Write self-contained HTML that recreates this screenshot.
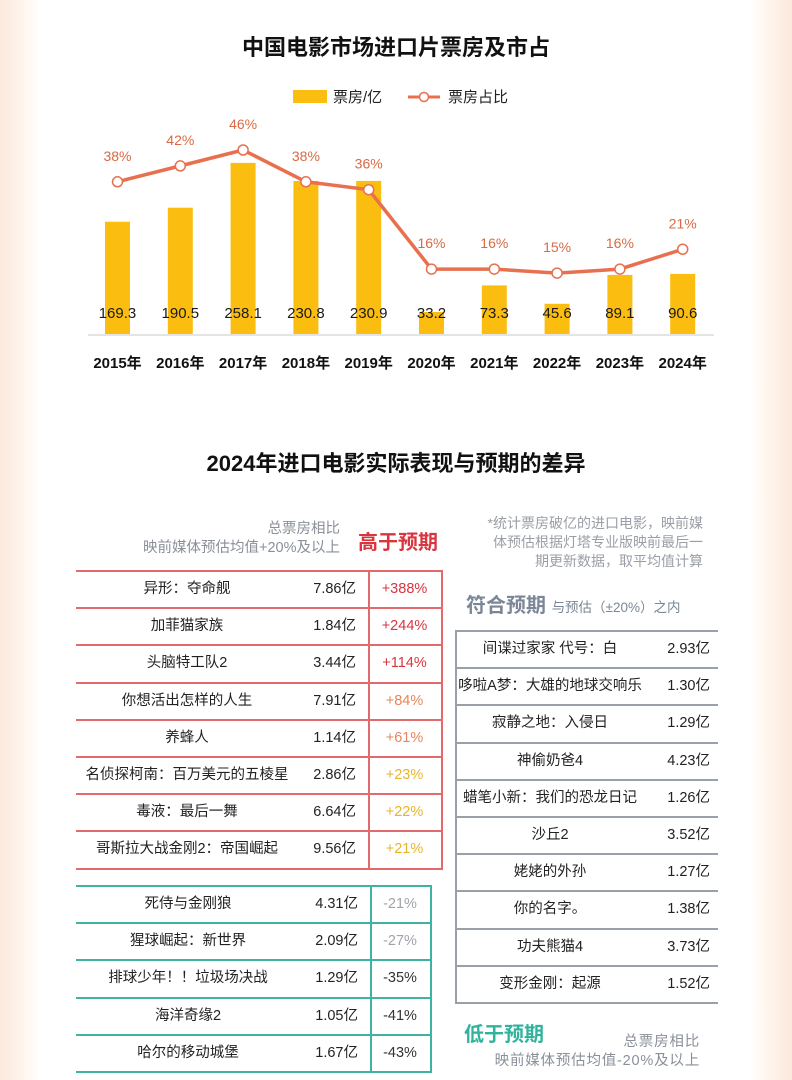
<!DOCTYPE html>
<html><head><meta charset="utf-8">
<style>
body{margin:0;width:792px;height:1080px;overflow:hidden;background:linear-gradient(90deg,#fbe9dc 0,#fff6ef 25px,#fff 40px,#fff 750px,#fff6ef 765px,#fbe9dc 792px);font-family:"Liberation Sans","Noto Sans CJK SC",sans-serif;position:relative}
.a{position:absolute;white-space:nowrap}
.t{font-weight:bold;font-size:22px;color:#111;text-align:center;width:792px;left:0}
.row{position:absolute;height:37px;font-size:14.5px;color:#222}
.row span{position:absolute;top:0;line-height:37px}
</style></head><body>
<div class="a t" style="top:30px">中国电影市场进口片票房及市占</div>
<svg id="chart" class="a" style="left:0;top:0" width="792" height="380"></svg>
<div class="a t" style="top:446px">2024年进口电影实际表现与预期的差异</div>

<div class="a" style="right:452px;top:520px;font-size:14.5px;color:#8a8f99;text-align:right;line-height:19px">总票房相比<br>映前媒体预估均值+20%及以上</div>
<div class="a" style="left:358px;top:526px;font-size:20px;font-weight:bold;color:#d8353f">高于预期</div>
<div class="a" style="right:89px;top:514px;font-size:14px;color:#9a9ea6;text-align:right;line-height:19px">*统计票房破亿的进口电影，映前媒<br>体预估根据灯塔专业版映前最后一<br>期更新数据，取平均值计算</div>
<div class="a" style="left:466px;top:589px;font-size:20px;font-weight:bold;color:#7b8796">符合预期 <span style="font-size:13.5px;font-weight:normal;color:#7b8796">与预估（±20%）之内</span></div>
<div class="a" style="left:464px;top:1018px;font-size:20px;font-weight:bold;color:#2fb39c">低于预期</div>
<div class="a" style="right:92px;top:1033px;font-size:14.5px;color:#8a8f99;text-align:right;line-height:19px;letter-spacing:0.8px">总票房相比<br>映前媒体预估均值-20%及以上</div>

<div id="tables"></div>
<script>
const years=['2015年','2016年','2017年','2018年','2019年','2020年','2021年','2022年','2023年','2024年'];
const boxOffice=[169.3,190.5,258.1,230.8,230.9,33.2,73.3,45.6,89.1,90.6];
const share=[38,42,46,38,36,16,16,15,16,21];
const above=[['异形：夺命舰','7.86亿','+388%'],['加菲猫家族','1.84亿','+244%'],['头脑特工队2','3.44亿','+114%'],['你想活出怎样的人生','7.91亿','+84%'],['养蜂人','1.14亿','+61%'],['名侦探柯南：百万美元的五棱星','2.86亿','+23%'],['毒液：最后一舞','6.64亿','+22%'],['哥斯拉大战金刚2：帝国崛起','9.56亿','+21%']];
const aboveColors=['#d8353f','#d8353f','#d8353f','#e8855a','#e8855a','#e8b52a','#e8b52a','#e8b52a'];
const below=[['死侍与金刚狼','4.31亿','-21%'],['猩球崛起：新世界','2.09亿','-27%'],['排球少年！！垃圾场决战','1.29亿','-35%'],['海洋奇缘2','1.05亿','-41%'],['哈尔的移动城堡','1.67亿','-43%']];
const belowColors=['#a0a4aa','#a0a4aa','#333','#333','#333'];
const match=[['间谍过家家 代号：白','2.93亿'],['哆啦A梦：大雄的地球交响乐','1.30亿'],['寂静之地：入侵日','1.29亿'],['神偷奶爸4','4.23亿'],['蜡笔小新：我们的恐龙日记','1.26亿'],['沙丘2','3.52亿'],['姥姥的外孙','1.27亿'],['你的名字。','1.38亿'],['功夫熊猫4','3.73亿'],['变形金刚：起源','1.52亿']];

const NS='http://www.w3.org/2000/svg',svg=document.getElementById('chart');
function el(t,a){const e=document.createElementNS(NS,t);for(const k in a)e.setAttribute(k,a[k]);svg.appendChild(e);return e;}
const xAt=i=>117.5+i*62.8, base=334, yBar=v=>base-v*0.663, yPct=p=>150+(46-p)*3.97;
let lg=el('rect',{x:293,y:90,width:34,height:13,fill:'#fbbd0f'});
let lt=el('text',{x:333,y:102,'font-size':15,fill:'#222'});lt.textContent='票房/亿';
let ll=el('line',{x1:408,y1:97,x2:440,y2:97,stroke:'#e8704e','stroke-width':3});
let lc=el('circle',{cx:424,cy:97,r:4.5,fill:'#fff',stroke:'#e8704e','stroke-width':1.5});
let lt2=el('text',{x:448,y:102,'font-size':15,fill:'#222'});lt2.textContent='票房占比';
let ax=el('line',{x1:88,y1:base+1,x2:714,y2:base+1,stroke:'#e4e4e4','stroke-width':2});
boxOffice.forEach((v,i)=>{
  const r=el('rect',{x:xAt(i)-12.5,y:yBar(v),width:25,height:base-yBar(v),fill:'#fbbd0f'});
  
  const t=el('text',{x:xAt(i),y:318,'font-size':15,'text-anchor':'middle',fill:'#1a1a1a'});t.textContent=v.toFixed(1);
  
  const y=el('text',{x:xAt(i),y:368,'font-size':15,'font-weight':'bold','text-anchor':'middle',fill:'#111'});y.textContent=years[i];
  
});
const pl=el('polyline',{points:share.map((p,i)=>xAt(i)+','+yPct(p)).join(' '),fill:'none',stroke:'#e8704e','stroke-width':3.5,'stroke-linejoin':'round'});

share.forEach((p,i)=>{
  const c=el('circle',{cx:xAt(i),cy:yPct(p),r:5,fill:'#fff',stroke:'#e8704e','stroke-width':1.5});
  
  const t=el('text',{x:xAt(i),y:yPct(p)-21,'font-size':14,'text-anchor':'middle',fill:'#d86a45'});t.textContent=p+'%';
  
});

const T=document.getElementById('tables');
function table(name,rows,left,top,w,div,col,hasPct,colors,leftBorder){
  const h=rows.length*37.2;
  const box=document.createElement('div');box.className='a';
  box.style.cssText=`left:${left}px;top:${top}px;width:${w}px;height:${h}px;border-top:2px solid ${col};${leftBorder?'border-left:2px solid '+col+';':''}${hasPct?'border-right:2px solid '+col+';':''}`;
  
  
  T.appendChild(box);
  if(hasPct){const d=document.createElement('div');d.className='a';d.style.cssText=`left:${div-left}px;top:0;height:${h}px;border-left:2px solid ${col}`;box.appendChild(d);}
  rows.forEach((r,i)=>{
    const row=document.createElement('div');row.className='row';
    row.style.cssText=`left:0;top:${i*37.2}px;width:${w}px;border-bottom:2px solid ${col};height:35.2px`;
    
    
    const nameW=hasPct?(div-left-70):(w-75);
    row.innerHTML=`<span style="left:0;width:${nameW}px;text-align:center;line-height:35px">${r[0]}</span><span style="right:${hasPct?(left+w-div+12):8}px;line-height:35px">${r[1]}</span>`+(hasPct?`<span style="left:${div-left}px;width:${left+w-div}px;text-align:center;line-height:35px;color:${colors[i]}">${r[2]}</span>`:'');
    box.appendChild(row);
  });
}
table('above-expectation-table',above,76,570,365,368,'#e36a6a',true,aboveColors,false);
table('below-expectation-table',below,76,885,354,370,'#3fb3a3',true,belowColors,false);
table('match-expectation-table',match,455,630,261,0,'#9aa0a8',false,null,true);
</script>
</body></html>
